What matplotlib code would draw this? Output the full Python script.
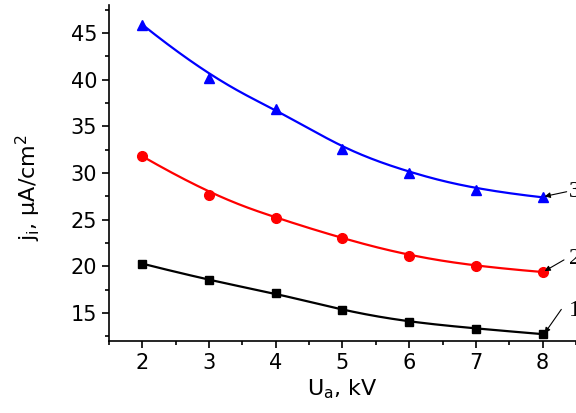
import numpy as np
import matplotlib
matplotlib.use("Agg")
import matplotlib.pyplot as plt
from matplotlib.ticker import MultipleLocator

plt.rcParams['font.family'] = ['DejaVu Sans']
plt.rcParams['mathtext.fontset'] = 'dejavusans'

ua = [2, 3, 4, 5, 6, 7, 8]
j1 = [20.3, 18.5, 17.15, 15.3, 14.0, 13.35, 12.75]
j2 = [31.8, 27.7, 25.2, 23.0, 21.1, 20.0, 19.4]
j3 = [45.9, 40.2, 36.9, 32.6, 30.0, 28.2, 27.4]
curve_labels = ['1', '2', '3']


def bspline(x, y, n=300):
    # clamped cubic B-spline with the points as control points (like Origin's B-spline line)
    pts = np.column_stack([x, y]).astype(float)
    k = len(pts)
    knots = np.concatenate([[0, 0, 0], np.arange(k - 2), [k - 3, k - 3, k - 3]]).astype(float)
    ts = np.linspace(0, k - 3, n)
    out = []
    for t in ts:
        s = min(int(np.searchsorted(knots, t, side='right')) - 1, k - 1)
        d = [pts[j].copy() for j in range(s - 3, s + 1)]
        for r in range(1, 4):
            for j in range(3, r - 1, -1):
                i = j + s - 3
                den = knots[i + 4 - r] - knots[i]
                a = 0.0 if den == 0 else (t - knots[i]) / den
                d[j] = (1 - a) * d[j - 1] + a * d[j]
        out.append(d[3])
    out = np.array(out)
    return out[:, 0], out[:, 1]


fig = plt.figure(figsize=(5.76, 4.13), dpi=100)
ax = fig.add_axes([0.189, 0.174, 0.811, 0.814])

series = [(j1, 'black', 's', 6), (j2, 'red', 'o', 7), (j3, 'blue', '^', 7.5)]
for vals, col, mk, ms in series:
    xs, ys = bspline(ua, vals)
    ax.plot(xs, ys, color=col, lw=1.6)
    ax.plot(ua, vals, ls='none', marker=mk, color=col, ms=ms)

# curve numbers with arrows
label_pos = [(8.39, 15.3), (8.39, 20.8), (8.39, 28.0)]
arrow_from = [(8.28, 15.4), (8.32, 20.7), (8.36, 28.0)]
for lab, vals, tp, af in zip(curve_labels, [j1, j2, j3], label_pos, arrow_from):
    ax.annotate('', xy=(ua[-1] + 0.03, vals[-1] + 0.1), xytext=af,
                arrowprops=dict(arrowstyle='-|>', color='black', lw=0.8,
                                mutation_scale=8, shrinkA=0, shrinkB=0),
                annotation_clip=False)
    ax.text(tp[0], tp[1], lab, family='Liberation Serif', fontsize=17,
            va='center', ha='left', clip_on=False)

ax.set_xlim(1.5, 8.5)
ax.set_ylim(12, 48)
ax.xaxis.set_major_locator(MultipleLocator(1))
ax.xaxis.set_minor_locator(MultipleLocator(0.5))
ax.yaxis.set_major_locator(MultipleLocator(5))
ax.yaxis.set_minor_locator(MultipleLocator(2.5))
ax.set_xticks(range(2, 9))
ax.tick_params(which='major', direction='out', length=5, width=1.2, labelsize=15)
ax.tick_params(which='minor', direction='out', length=3, width=1.2)
ax.spines['top'].set_visible(False)
ax.spines['right'].set_visible(False)
for s in ['left', 'bottom']:
    ax.spines[s].set_linewidth(1.2)

ax.set_xlabel(r'U$_\mathregular{a}$, kV', fontsize=16, labelpad=3)
ax.set_ylabel(r'j$_\mathregular{i}$, $\mathregular{\mu}$A/cm$^\mathregular{2}$', fontsize=16)
ax.yaxis.set_label_coords(-0.14, 0.458)

fig.savefig('out.png', dpi=100)
